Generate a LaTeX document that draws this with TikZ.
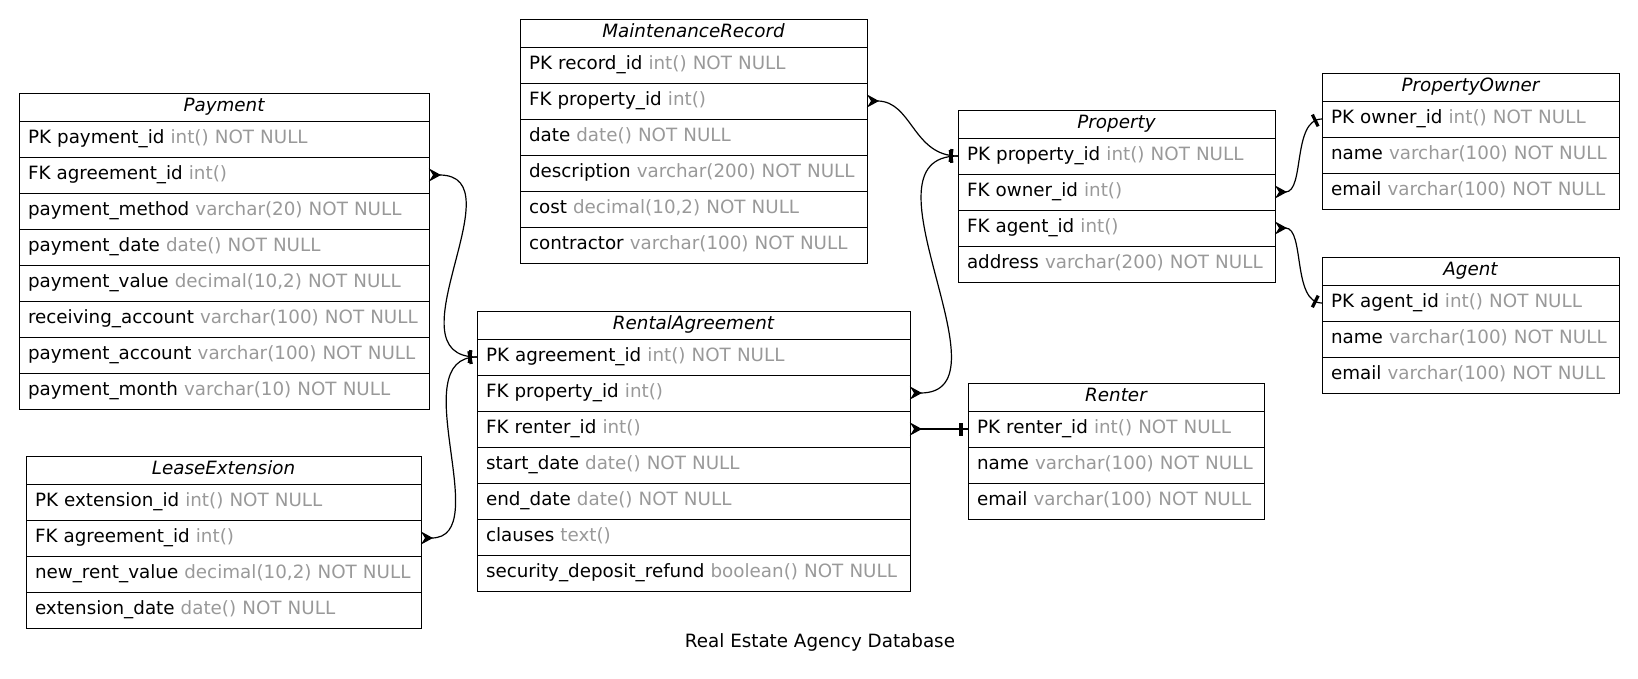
\documentclass[tikz,border=0pt]{standalone}
\usepackage{fontspec}
\setmainfont{DejaVu Sans}
\usepackage{tikz}
\usetikzlibrary{positioning, arrows.meta, decorations.markings}

\definecolor{typegray}{RGB}{153,153,153}

\begin{document}
\fontsize{18.3}{22}\selectfont
\begin{tikzpicture}[x=1pt, y=-1pt, line width=1pt,
    tablehead/.style={draw, anchor=north west, outer sep=0pt, inner xsep=9pt, inner ysep=0pt,
        minimum height=28pt, text width=#1, align=center, text height=14pt, text depth=4.5pt, font=\itshape},
    tablerow/.style={draw, outer sep=0pt, inner xsep=9pt, inner ysep=0pt,
        minimum height=36pt, text width=#1, align=left, text height=14pt, text depth=4.5pt},
    fkline/.style={arrows={Stealth[reversed, length=12pt, width=13pt, inset=4pt]-}, line width=1.2pt,
        postaction={decorate, decoration={markings,
            mark=at position -7pt with {\fill (-1.6,-6.5) rectangle (1.6,6.5);}}}}]
    \useasboundingbox (0,0) rectangle (1638,678);

    % Payment
    \node[tablehead=392pt] (pay-h) at (19,93) {Payment};
    \foreach \nm/\fld/\typ [remember=\nm as \prev (initially h)] in {
        pid/PK payment\_id/{int() NOT NULL},
        aid/FK agreement\_id/{int()},
        method/payment\_method/{varchar(20) NOT NULL},
        date/payment\_date/{date() NOT NULL},
        value/payment\_value/{decimal(10,2) NOT NULL},
        recv/receiving\_account/{varchar(100) NOT NULL},
        acct/payment\_account/{varchar(100) NOT NULL},
        month/payment\_month/{varchar(10) NOT NULL}}
        \node[tablerow=392pt, below=0pt of pay-\prev] (pay-\nm) {\mbox{\fld\ \textcolor{typegray}{\typ}}};

    % LeaseExtension
    \node[tablehead=377pt] (le-h) at (26,456) {LeaseExtension};
    \foreach \nm/\fld/\typ [remember=\nm as \prev (initially h)] in {
        eid/PK extension\_id/{int() NOT NULL},
        aid/FK agreement\_id/{int()},
        rent/new\_rent\_value/{decimal(10,2) NOT NULL},
        date/extension\_date/{date() NOT NULL}}
        \node[tablerow=377pt, below=0pt of le-\prev] (le-\nm) {\mbox{\fld\ \textcolor{typegray}{\typ}}};

    % MaintenanceRecord
    \node[tablehead=329pt] (mr-h) at (520,19) {MaintenanceRecord};
    \foreach \nm/\fld/\typ [remember=\nm as \prev (initially h)] in {
        rid/PK record\_id/{int() NOT NULL},
        pid/FK property\_id/{int()},
        date/date/{date() NOT NULL},
        desc/description/{varchar(200) NOT NULL},
        cost/cost/{decimal(10,2) NOT NULL},
        contr/contractor/{varchar(100) NOT NULL}}
        \node[tablerow=329pt, below=0pt of mr-\prev] (mr-\nm) {\mbox{\fld\ \textcolor{typegray}{\typ}}};

    % RentalAgreement
    \node[tablehead=415pt] (ra-h) at (477,311) {RentalAgreement};
    \foreach \nm/\fld/\typ [remember=\nm as \prev (initially h)] in {
        aid/PK agreement\_id/{int() NOT NULL},
        pid/FK property\_id/{int()},
        rid/FK renter\_id/{int()},
        start/start\_date/{date() NOT NULL},
        end/end\_date/{date() NOT NULL},
        cl/clauses/{text()},
        dep/security\_deposit\_refund/{boolean() NOT NULL}}
        \node[tablerow=415pt, below=0pt of ra-\prev] (ra-\nm) {\mbox{\fld\ \textcolor{typegray}{\typ}}};

    % Property
    \node[tablehead=299pt] (prop-h) at (958,110) {Property};
    \foreach \nm/\fld/\typ [remember=\nm as \prev (initially h)] in {
        pid/PK property\_id/{int() NOT NULL},
        oid/FK owner\_id/{int()},
        agid/FK agent\_id/{int()},
        addr/address/{varchar(200) NOT NULL}}
        \node[tablerow=299pt, below=0pt of prop-\prev] (prop-\nm) {\mbox{\fld\ \textcolor{typegray}{\typ}}};

    % PropertyOwner
    \node[tablehead=279pt] (own-h) at (1322,73) {PropertyOwner};
    \foreach \nm/\fld/\typ [remember=\nm as \prev (initially h)] in {
        oid/PK owner\_id/{int() NOT NULL},
        name/name/{varchar(100) NOT NULL},
        email/email/{varchar(100) NOT NULL}}
        \node[tablerow=279pt, below=0pt of own-\prev] (own-\nm) {\mbox{\fld\ \textcolor{typegray}{\typ}}};

    % Agent
    \node[tablehead=279pt] (ag-h) at (1322,257) {Agent};
    \foreach \nm/\fld/\typ [remember=\nm as \prev (initially h)] in {
        agid/PK agent\_id/{int() NOT NULL},
        name/name/{varchar(100) NOT NULL},
        email/email/{varchar(100) NOT NULL}}
        \node[tablerow=279pt, below=0pt of ag-\prev] (ag-\nm) {\mbox{\fld\ \textcolor{typegray}{\typ}}};

    % Renter
    \node[tablehead=278pt] (ren-h) at (968,383) {Renter};
    \foreach \nm/\fld/\typ [remember=\nm as \prev (initially h)] in {
        rid/PK renter\_id/{int() NOT NULL},
        name/name/{varchar(100) NOT NULL},
        email/email/{varchar(100) NOT NULL}}
        \node[tablerow=278pt, below=0pt of ren-\prev] (ren-\nm) {\mbox{\fld\ \textcolor{typegray}{\typ}}};

    % Relations
    \draw[fkline] (pay-aid.east) .. controls +(90,0) and +(-90,0) .. (ra-aid.west);
    \draw[fkline] (le-aid.east) .. controls +(75,0) and +(-75,0) .. (ra-aid.west);
    \draw[fkline] (mr-pid.east) .. controls +(45,0) and +(-45,0) .. (prop-pid.west);
    \draw[fkline] (ra-pid.east) .. controls +(105,0) and +(-105,0) .. (prop-pid.west);
    \draw[fkline] (ra-rid.east) -- (ren-rid.west);
    \draw[fkline] (prop-oid.east) .. controls +(30,0) and +(-30,0) .. (own-oid.west);
    \draw[fkline] (prop-agid.east) .. controls +(30,0) and +(-30,0) .. (ag-agid.west);

    \node (title) at (820,642) {Real Estate Agency Database};
\end{tikzpicture}
\end{document}
